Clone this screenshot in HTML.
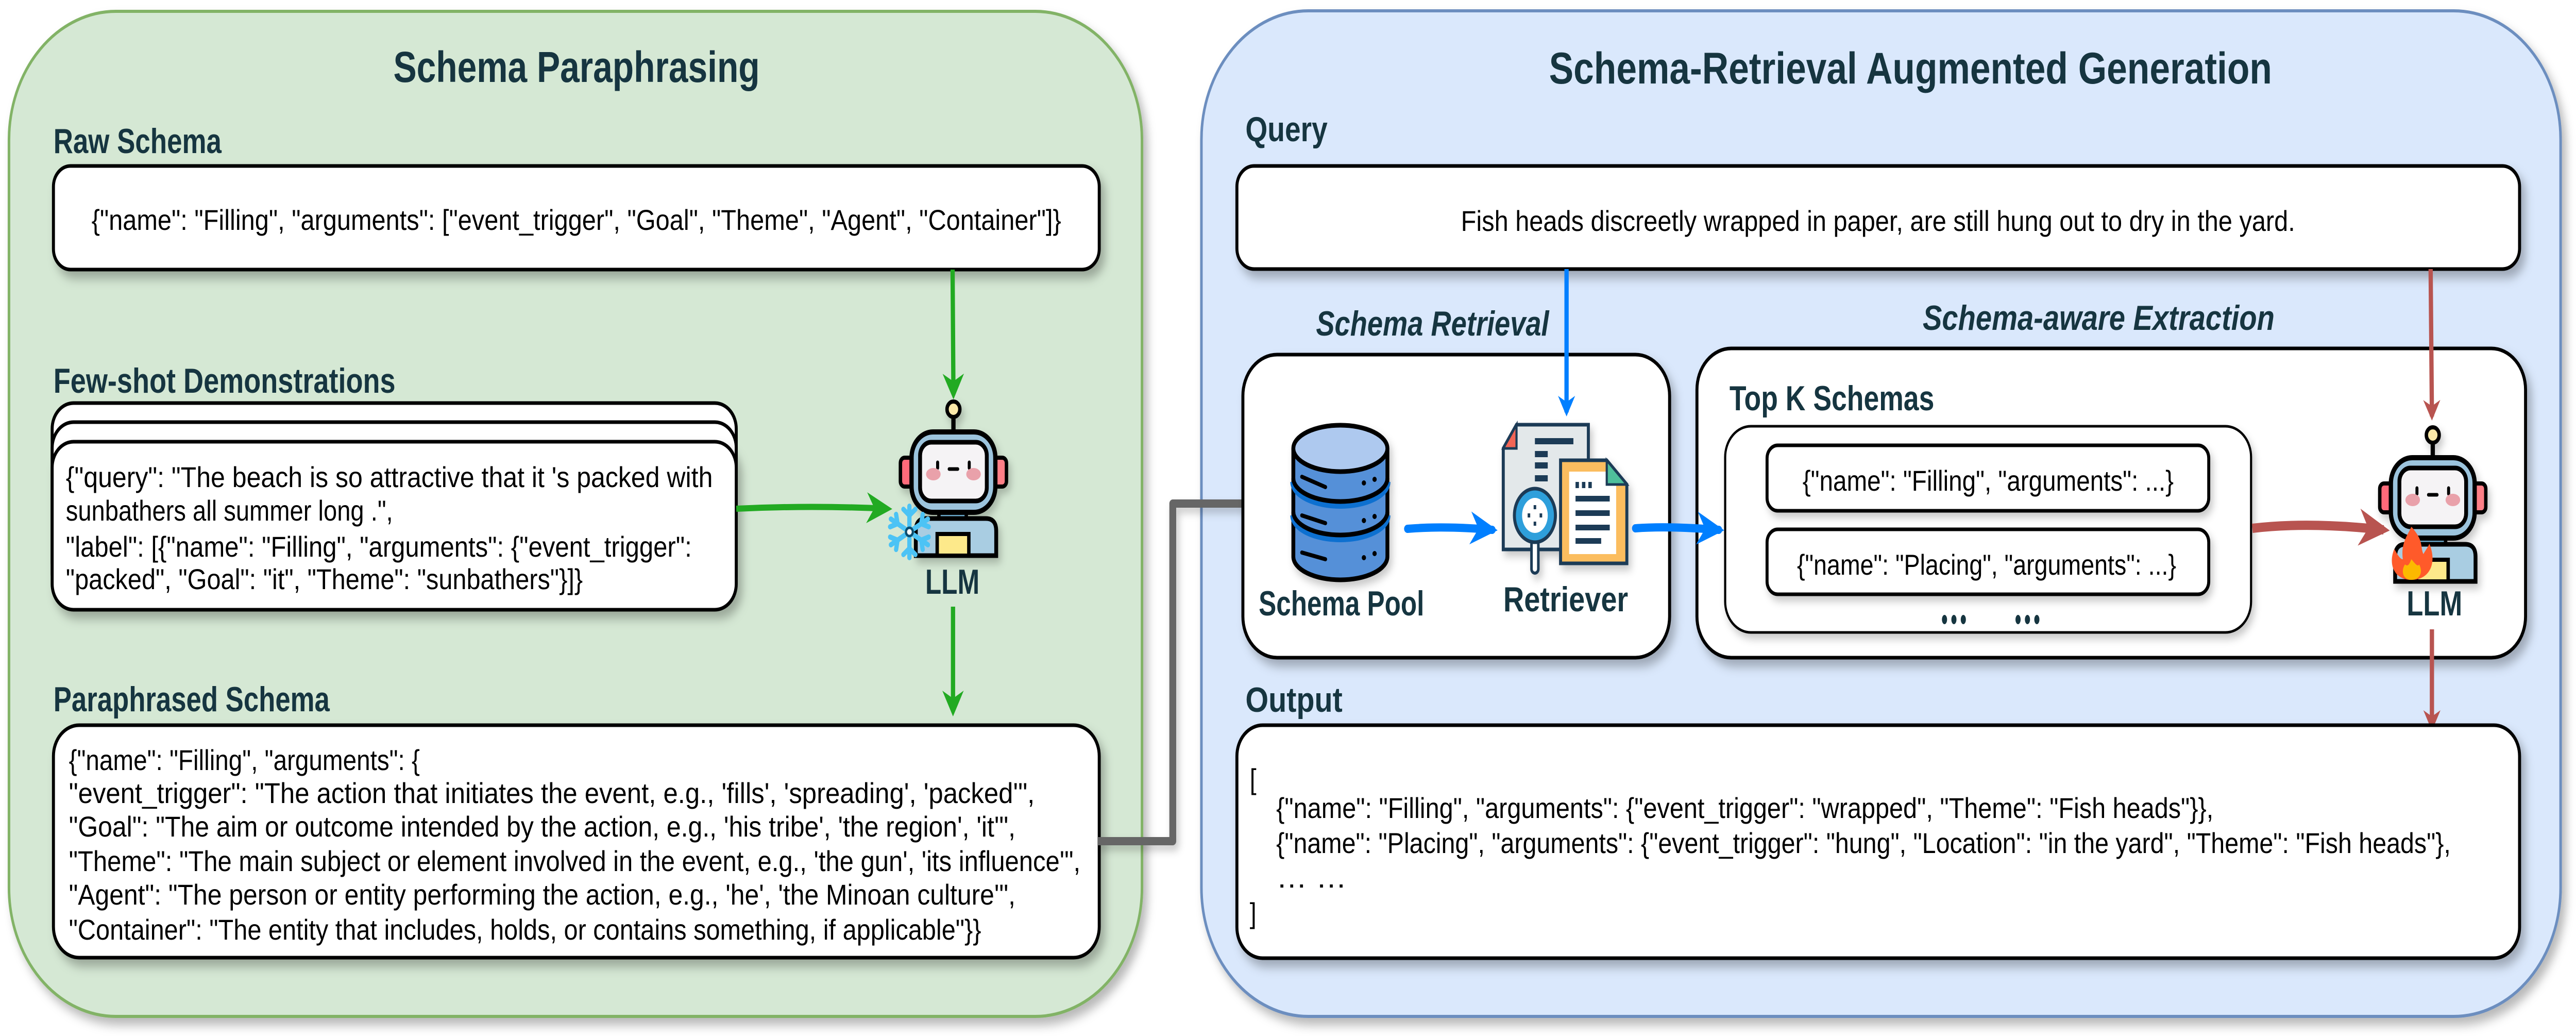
<!DOCTYPE html>
<html><head><meta charset="utf-8"><style>
html,body{margin:0;padding:0;background:#fff;width:100%;height:100%;overflow:hidden;}
svg{display:block;width:100vw;height:100vh;}
text{font-family:"Liberation Sans",sans-serif;}
.lab{font-weight:bold;fill:#163540;font-size:68px;}
.t{fill:#000;font-size:56px;}
</style></head><body>
<svg viewBox="0 0 6025 2010" preserveAspectRatio="none" xmlns="http://www.w3.org/2000/svg">
<defs>
<filter id="sh" x="-10%" y="-10%" width="125%" height="135%"><feDropShadow dx="10" dy="14" stdDeviation="10" flood-color="#000" flood-opacity="0.28"/></filter>
<filter id="sh2" x="-10%" y="-10%" width="125%" height="135%"><feDropShadow dx="6" dy="10" stdDeviation="8" flood-color="#000" flood-opacity="0.22"/></filter>
<g id="robot">
  <line x1="2230" y1="810" x2="2230" y2="840" stroke="#000" stroke-width="10"/>
  <circle cx="2230" cy="794" r="15" fill="#fbe9a9" stroke="#000" stroke-width="8"/>
  <rect x="2106" y="888" width="30" height="56" rx="10" fill="#ff6b7a" stroke="#000" stroke-width="8"/>
  <rect x="2324" y="888" width="30" height="56" rx="10" fill="#ff7f87" stroke="#000" stroke-width="8"/>
  <rect x="2196" y="990" width="64" height="20" fill="#6aa8c9" stroke="#000" stroke-width="8"/>
  <rect x="2132" y="838" width="196" height="156" rx="50" fill="#9cc4dd" stroke="#000" stroke-width="10"/>
  <rect x="2152" y="858" width="156" height="114" rx="26" fill="#f5f3f5" stroke="#000" stroke-width="9"/>
  <line x1="2193" y1="897" x2="2193" y2="908" stroke="#000" stroke-width="7" stroke-linecap="round"/>
  <line x1="2267" y1="897" x2="2267" y2="908" stroke="#000" stroke-width="7" stroke-linecap="round"/>
  <line x1="2220" y1="910" x2="2240" y2="910" stroke="#000" stroke-width="7" stroke-linecap="round"/>
  <ellipse cx="2183" cy="920" rx="17" ry="12" fill="#e9a1aa"/>
  <ellipse cx="2277" cy="920" rx="17" ry="12" fill="#e9a1aa"/>
  <path d="M2142 1078 V1030 Q2142 1006 2166 1006 H2306 Q2330 1006 2330 1030 V1078 Z" fill="#a9cde2" stroke="#000" stroke-width="9"/>
  <rect x="2192" y="1036" width="74" height="42" fill="#fde98a" stroke="#000" stroke-width="8"/>
</g>
<marker id="ag" viewBox="0 0 10 10" refX="8" refY="5" markerWidth="5" markerHeight="5" orient="auto"><path d="M0 0 L10 5 L0 10 L3 5Z" fill="#22aa22"/></marker>
<marker id="ab" viewBox="0 0 10 10" refX="8" refY="5" markerWidth="4" markerHeight="4" orient="auto"><path d="M0 0 L10 5 L0 10 L3 5Z" fill="#007fff"/></marker>
<marker id="ar" viewBox="0 0 10 10" refX="8" refY="5" markerWidth="4" markerHeight="4" orient="auto"><path d="M0 0 L10 5 L0 10 L3 5Z" fill="#b85450"/></marker>
<marker id="agr" viewBox="0 0 10 10" refX="8" refY="5" markerWidth="3.5" markerHeight="3.5" orient="auto"><path d="M0 0 L10 5 L0 10 L3 5Z" fill="#666"/></marker>
</defs>

<rect x="21" y="22" width="2650" height="1950" rx="250" fill="#d5e8d4" stroke="#82b366" stroke-width="6" filter="url(#sh)"/>
<text x="920" y="159" class="lab" style="font-size:84px" textLength="857" lengthAdjust="spacingAndGlyphs">Schema Paraphrasing</text>

<text x="125" y="297" class="lab" textLength="393" lengthAdjust="spacingAndGlyphs">Raw Schema</text>
<rect x="125" y="322" width="2446" height="201" rx="40" fill="#fff" stroke="#000" stroke-width="7" filter="url(#sh)"/>
<text x="214" y="446" class="t" textLength="2268" lengthAdjust="spacingAndGlyphs">{"name": "Filling", "arguments": ["event_trigger", "Goal", "Theme", "Agent", "Container"]}</text>

<text x="125" y="762" class="lab" textLength="800" lengthAdjust="spacingAndGlyphs">Few-shot Demonstrations</text>
<rect x="122" y="782" width="1600" height="360" rx="50" fill="#fff" stroke="#000" stroke-width="7"/>
<rect x="122" y="819" width="1600" height="345" rx="50" fill="#fff" stroke="#000" stroke-width="7"/>
<rect x="122" y="857" width="1600" height="326" rx="50" fill="#fff" stroke="#000" stroke-width="7" filter="url(#sh)"/>
<text x="154" y="945" class="t" textLength="1513" lengthAdjust="spacingAndGlyphs">{"query": "The beach is so attractive that it 's packed with</text>
<text x="154" y="1010" class="t" textLength="765" lengthAdjust="spacingAndGlyphs">sunbathers all summer long .",</text>
<text x="154" y="1080" class="t" textLength="1464" lengthAdjust="spacingAndGlyphs">"label": [{"name": "Filling", "arguments": {"event_trigger":</text>
<text x="154" y="1143" class="t" textLength="1209" lengthAdjust="spacingAndGlyphs">"packed", "Goal": "it", "Theme": "sunbathers"}]}</text>

<path d="M2228 523 L2230 765" stroke="#22aa22" stroke-width="10" fill="none" marker-end="url(#ag)"/>
<path d="M1722 987 Q1900 980 2075 987" stroke="#22aa22" stroke-width="12" fill="none" marker-end="url(#ag)"/>
<path d="M2229 1177 L2229 1380" stroke="#22aa22" stroke-width="10" fill="none" marker-end="url(#ag)"/>

<g filter="url(#sh2)"><use href="#robot"/></g>
<g transform="translate(2127 1032)" stroke="#4cc3f5" stroke-width="10" stroke-linecap="round" fill="none">
  <g id="arm"><line x1="0" y1="0" x2="0" y2="-50"/><line x1="0" y1="-32" x2="-14" y2="-44"/><line x1="0" y1="-32" x2="14" y2="-44"/></g>
  <use href="#arm" transform="rotate(60)"/><use href="#arm" transform="rotate(120)"/><use href="#arm" transform="rotate(180)"/><use href="#arm" transform="rotate(240)"/><use href="#arm" transform="rotate(300)"/>
  <circle r="8" fill="#fff" stroke="#0a4d6e" stroke-width="5"/>
</g>
<text x="2164" y="1152" class="lab" textLength="127" lengthAdjust="spacingAndGlyphs">LLM</text>

<text x="125" y="1380" class="lab" textLength="646" lengthAdjust="spacingAndGlyphs">Paraphrased Schema</text>
<rect x="125" y="1407" width="2446" height="451" rx="60" fill="#fff" stroke="#000" stroke-width="7" filter="url(#sh)"/>
<text x="161" y="1494" class="t" textLength="821" lengthAdjust="spacingAndGlyphs">{"name": "Filling", "arguments": {</text>
<text x="161" y="1558" class="t" textLength="2259" lengthAdjust="spacingAndGlyphs">"event_trigger": "The action that initiates the event, e.g., 'fills', 'spreading', 'packed'",</text>
<text x="161" y="1623" class="t" textLength="2214" lengthAdjust="spacingAndGlyphs">"Goal": "The aim or outcome intended by the action, e.g., 'his tribe', 'the region', 'it'",</text>
<text x="161" y="1690" class="t" textLength="2366" lengthAdjust="spacingAndGlyphs">"Theme": "The main subject or element involved in the event, e.g., 'the gun', 'its influence'",</text>
<text x="161" y="1755" class="t" textLength="2214" lengthAdjust="spacingAndGlyphs">"Agent": "The person or entity performing the action, e.g., 'he', 'the Minoan culture'",</text>
<text x="161" y="1823" class="t" textLength="2134" lengthAdjust="spacingAndGlyphs">"Container": "The entity that includes, holds, or contains something, if applicable"}}</text>

<rect x="2810" y="21" width="3179" height="1951" rx="250" fill="#dae8fc" stroke="#6c8ebf" stroke-width="6" filter="url(#sh)"/>
<text x="3623" y="162" class="lab" style="font-size:86px" textLength="1691" lengthAdjust="spacingAndGlyphs">Schema-Retrieval Augmented Generation</text>

<path d="M2567 1632 L2743 1632 L2743 977 L2965 977" stroke="#666" stroke-width="16" fill="none" stroke-linejoin="round" marker-end="url(#agr)" filter="url(#sh2)"/>

<text x="2913" y="274" class="lab" textLength="192" lengthAdjust="spacingAndGlyphs">Query</text>
<rect x="2893" y="322" width="3000" height="200" rx="40" fill="#fff" stroke="#000" stroke-width="7" filter="url(#sh)"/>
<text x="3417" y="448" class="t" textLength="1951" lengthAdjust="spacingAndGlyphs">Fish heads discreetly wrapped in paper, are still hung out to dry in the yard.</text>

<text x="3078" y="651" class="lab" style="font-style:italic" textLength="545" lengthAdjust="spacingAndGlyphs">Schema Retrieval</text>
<text x="4497" y="640" class="lab" style="font-style:italic" textLength="823" lengthAdjust="spacingAndGlyphs">Schema-aware Extraction</text>

<rect x="2907" y="688" width="998" height="588" rx="80" fill="#fff" stroke="#000" stroke-width="7" filter="url(#sh)"/>
<rect x="3969" y="676" width="1938" height="600" rx="80" fill="#fff" stroke="#000" stroke-width="7" filter="url(#sh)"/>
<text x="4045" y="796" class="lab" textLength="479" lengthAdjust="spacingAndGlyphs">Top K Schemas</text>
<rect x="4035" y="827" width="1230" height="400" rx="60" fill="#fff" stroke="#000" stroke-width="5" filter="url(#sh2)"/>
<rect x="4133" y="864" width="1033" height="127" rx="25" fill="#fff" stroke="#000" stroke-width="7" filter="url(#sh2)"/>
<rect x="4133" y="1027" width="1033" height="126" rx="25" fill="#fff" stroke="#000" stroke-width="7" filter="url(#sh2)"/>
<text x="4216" y="952" class="t" textLength="868" lengthAdjust="spacingAndGlyphs">{"name": "Filling", "arguments": ...}</text>
<text x="4203" y="1115" class="t" textLength="887" lengthAdjust="spacingAndGlyphs">{"name": "Placing", "arguments": ...}</text>
<g fill="#163540"><ellipse cx="4548" cy="1202" rx="6" ry="9"/><ellipse cx="4570" cy="1202" rx="6" ry="9"/><ellipse cx="4592" cy="1202" rx="6" ry="9"/><ellipse cx="4720" cy="1202" rx="6" ry="9"/><ellipse cx="4742" cy="1202" rx="6" ry="9"/><ellipse cx="4764" cy="1202" rx="6" ry="9"/></g>

<g filter="url(#sh2)" stroke="#000" stroke-width="9">
  <path d="M3025 870 V1080 A110 45 0 0 0 3245 1080 V870" fill="#5590d8"/>
  <path d="M3025 935 A110 45 0 0 0 3245 935" fill="none" stroke="#0a6fd0" stroke-width="14"/>
  <path d="M3025 1000 A110 45 0 0 0 3245 1000" fill="none" stroke="#0a6fd0" stroke-width="14"/>
  <path d="M3025 928 A110 45 0 0 0 3245 928" fill="none"/>
  <path d="M3025 993 A110 45 0 0 0 3245 993" fill="none"/>
  <ellipse cx="3135" cy="870" rx="110" ry="45" fill="#aec9ef"/>
  <g stroke-width="8" stroke-linecap="round"><line x1="3045" y1="925" x2="3100" y2="945"/><line x1="3045" y1="1000" x2="3100" y2="1015"/><line x1="3045" y1="1072" x2="3100" y2="1085"/></g>
  <g fill="#000" stroke="none"><circle cx="3190" cy="937" r="5"/><circle cx="3215" cy="930" r="5"/><circle cx="3190" cy="1010" r="5"/><circle cx="3215" cy="1002" r="5"/><circle cx="3190" cy="1082" r="5"/><circle cx="3215" cy="1074" r="5"/></g>
</g>
<text x="2944" y="1194" class="lab" textLength="387" lengthAdjust="spacingAndGlyphs">Schema Pool</text>

<g filter="url(#sh2)">
  <path d="M3547 824 H3715 V1066 H3516 V870 Z" fill="#e3e8ea" stroke="#1b3a57" stroke-width="7"/>
  <path d="M3547 824 L3516 870 H3547 Z" fill="#f26554" stroke="#1b3a57" stroke-width="5"/>
  <g fill="#1b3a57"><rect x="3590" y="850" width="90" height="12"/><rect x="3590" y="875" width="30" height="12"/><rect x="3590" y="897" width="30" height="12"/><rect x="3590" y="922" width="30" height="12"/></g>
  <path d="M3650 893 H3758 L3805 940 V1093 H3650 Z" fill="#fbbd5e" stroke="#1b3a57" stroke-width="7"/>
  <rect x="3670" y="915" width="110" height="160" fill="#fff"/>
  <path d="M3758 893 L3805 940 H3758 Z" fill="#4fbf9b" stroke="#1b3a57" stroke-width="5"/>
  <g fill="#1b3a57"><rect x="3685" y="962" width="80" height="11"/><rect x="3685" y="990" width="80" height="11"/><rect x="3685" y="1018" width="80" height="11"/><rect x="3685" y="1044" width="60" height="11"/><rect x="3685" y="935" width="8" height="12"/><rect x="3700" y="935" width="8" height="12"/><rect x="3715" y="935" width="8" height="12"/></g>
  <rect x="3582" y="1048" width="16" height="64" rx="8" fill="#fff" stroke="#1b3a57" stroke-width="6"/>
  <ellipse cx="3590" cy="1000" rx="48" ry="52" fill="#2d9fdb" stroke="#1b3a57" stroke-width="7"/>
  <ellipse cx="3590" cy="1000" rx="30" ry="34" fill="#fff"/>
  <g fill="#1b3a57"><rect x="3587" y="980" width="6" height="8"/><rect x="3587" y="1012" width="6" height="8"/><rect x="3573" y="996" width="6" height="8"/><rect x="3601" y="996" width="6" height="8"/></g>
</g>
<text x="3516" y="1186" class="lab" textLength="292" lengthAdjust="spacingAndGlyphs">Retriever</text>

<path d="M3664 522 L3664 800" stroke="#007fff" stroke-width="10" fill="none" marker-end="url(#ab)"/>
<path d="M3292 1026 Q3380 1020 3490 1028" stroke="#007fff" stroke-width="16" fill="none" marker-end="url(#ab)" stroke-linecap="round"/>
<path d="M3825 1025 Q3900 1020 4020 1028" stroke="#007fff" stroke-width="16" fill="none" marker-end="url(#ab)" stroke-linecap="round"/>

<path d="M5685 522 L5688 808" stroke="#b85450" stroke-width="10" fill="none" marker-end="url(#ar)"/>
<path d="M5268 1025 Q5400 1012 5575 1028" stroke="#b85450" stroke-width="18" fill="none" marker-end="url(#ar)"/>
<path d="M5688 1221 L5688 1410" stroke="#b85450" stroke-width="10" fill="none" marker-end="url(#ar)"/>

<g filter="url(#sh2)"><use href="#robot" transform="translate(3460 50)"/></g>
<g transform="translate(5640 1080)">
  <path d="M0 -58 C30 -30 20 -20 28 -5 C35 -15 40 -20 42 -25 C60 10 45 45 0 45 C-40 45 -55 15 -40 -15 C-30 0 -25 5 -20 5 C-25 -25 -10 -40 0 -58Z" fill="#ff5a2a"/>
  <path d="M0 5 C10 15 15 20 18 15 C28 30 20 45 0 45 C-20 45 -25 28 -15 15 C-8 20 -5 15 0 5Z" fill="#fcb900"/>
</g>
<text x="5629" y="1194" class="lab" textLength="130" lengthAdjust="spacingAndGlyphs">LLM</text>

<text x="2913" y="1381" class="lab" textLength="227" lengthAdjust="spacingAndGlyphs">Output</text>
<rect x="2893" y="1407" width="3000" height="452" rx="60" fill="#fff" stroke="#000" stroke-width="7" filter="url(#sh)"/>
<text x="2923" y="1531" class="t">[</text>
<text x="2985" y="1587" class="t" textLength="2192" lengthAdjust="spacingAndGlyphs">{"name": "Filling", "arguments": {"event_trigger": "wrapped", "Theme": "Fish heads"}},</text>
<text x="2985" y="1655" class="t" textLength="2747" lengthAdjust="spacingAndGlyphs">{"name": "Placing", "arguments": {"event_trigger": "hung", "Location": "in the yard", "Theme": "Fish heads"},</text>
<text x="2985" y="1722" class="t" textLength="165" lengthAdjust="spacingAndGlyphs">… …</text>
<text x="2923" y="1791" class="t">]</text>
</svg>
</body></html>
